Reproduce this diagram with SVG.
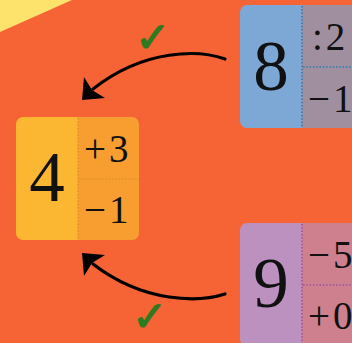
<svg xmlns="http://www.w3.org/2000/svg" width="352" height="343" viewBox="0 0 352 343">
<style>
.big{font-family:"Liberation Serif","DejaVu Serif",serif;font-size:71px;fill:#111;text-anchor:middle}
.op{font-family:"Liberation Serif","DejaVu Serif",serif;font-size:39px;fill:#111;letter-spacing:3px}
.div{fill:none;stroke-width:1.6;stroke-dasharray:1.5 1.8}
.arr{fill:none;stroke:#000;stroke-width:3.2;stroke-linecap:round}
.check{font-family:"DejaVu Sans",sans-serif;font-size:42px;fill:#2E7A1E;stroke:#2E7A1E;stroke-width:1.2}
</style>
<defs>
<path id="L" d="M7,0 H62 V123 H7 A7,7 0 0 1 0,116 V7 A7,7 0 0 1 7,0 Z"/>
<path id="R" d="M62,0 H116 A7,7 0 0 1 123,7 V116 A7,7 0 0 1 116,123 H62 Z"/>
<path id="D" d="M62,1 V122 M63,62 H123"/>
</defs>
<rect width="352" height="343" fill="#F66335"/>
<polygon points="0,0 72,0 0,32" fill="#FDE36B"/>
<g id="connectors">
<path class="arr" d="M225,59 C200,50 145,48 93,89"/>
<polygon points="82,100 84,77 92,90 105,98" fill="#000"/>
<path class="arr" d="M225,294 C200,302 145,304 93,264"/>
<polygon points="82,253 84,276 92,263 105,255" fill="#000"/>
<text class="check" x="135" y="52">✓</text>
<text class="check" x="132" y="331">✓</text>
</g>
<g id="node4" transform="translate(16,117)">
<use href="#L" fill="#FBB731"/>
<use href="#R" fill="#F89E31"/>
<use href="#D" class="div" stroke="#E0922A"/>
<text class="big" x="31" y="84">4</text>
<text class="op" x="68" y="45">+3</text>
<text class="op" x="68" y="106">−1</text>
</g>
<g id="node8" transform="translate(240,5)">
<use href="#L" fill="#7DA7D4"/>
<use href="#R" fill="#A08F9F"/>
<use href="#D" class="div" stroke="#2A7BBA"/>
<text class="big" x="31" y="85">8</text>
<text class="op" x="72" y="45">:2</text>
<text class="op" x="68" y="107">−1</text>
</g>
<g id="node9" transform="translate(240,223)">
<use href="#L" fill="#BC91C0"/>
<use href="#R" fill="#CF808E"/>
<use href="#D" class="div" stroke="#9A52A2"/>
<text class="big" x="31" y="84">9</text>
<text class="op" x="68" y="45">−5</text>
<text class="op" x="68" y="106">+0</text>
</g>
</svg>
